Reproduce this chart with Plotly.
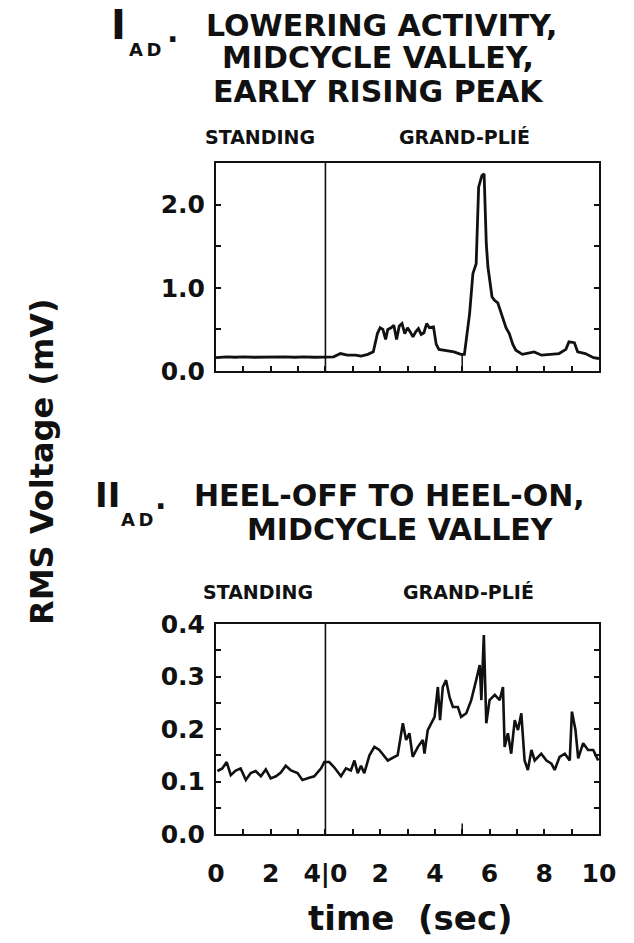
import plotly.graph_objects as go

# ---------------- data ----------------
# time axis: standing phase plotted at -4..0 (labelled 0..4), grand-plié at 0..10
top_t = [-4.0, -3.6, -3.3, -3.0, -2.6, -2.2, -1.9, -1.5, -1.1, -0.8, -0.4, 0.0,
         0.3, 0.55, 0.8, 1.1, 1.3, 1.55, 1.75, 1.9, 2.0, 2.1, 2.2, 2.28, 2.4, 2.5,
         2.6, 2.7, 2.8, 2.9, 3.0, 3.1, 3.2, 3.3, 3.4, 3.5, 3.6, 3.7, 3.8, 3.95,
         4.05, 4.15, 4.4, 4.7, 4.95, 5.08, 5.27, 5.39, 5.51, 5.6, 5.72, 5.8, 5.88,
         5.94, 6.09, 6.18, 6.3, 6.4, 6.47, 6.6, 6.72, 6.85, 6.96, 7.2, 7.5, 7.63,
         7.9, 8.2, 8.54, 8.79, 8.9, 9.1, 9.22, 9.5, 9.8, 10.0]
top_v = [0.16, 0.17, 0.165, 0.17, 0.165, 0.17, 0.165, 0.17, 0.165, 0.17, 0.165, 0.165,
         0.17, 0.21, 0.19, 0.19, 0.18, 0.20, 0.23, 0.45, 0.52, 0.50, 0.38, 0.50, 0.52, 0.55,
         0.38, 0.54, 0.57, 0.45, 0.52, 0.47, 0.41, 0.47, 0.51, 0.44, 0.46, 0.57, 0.52, 0.53,
         0.32, 0.26, 0.25, 0.23, 0.20, 0.20, 0.69, 1.17, 1.29, 2.21, 2.35, 2.37, 1.53,
         1.25, 0.89, 0.85, 0.82, 0.72, 0.65, 0.52, 0.45, 0.32, 0.25, 0.20, 0.22, 0.23,
         0.19, 0.20, 0.21, 0.26, 0.35, 0.34, 0.23, 0.21, 0.16, 0.15]

bot_t = [-3.95, -3.77, -3.61, -3.46, -3.28, -3.10, -2.91, -2.73, -2.55, -2.36, -2.18,
         -2.00, -1.81, -1.63, -1.45, -1.26, -1.02, -0.84, -0.65, -0.41, -0.16, -0.04,
         0.14, 0.32, 0.57, 0.75, 0.93, 1.06, 1.18, 1.30, 1.42, 1.61, 1.79, 1.97, 2.28,
         2.64, 2.83, 2.95, 3.07, 3.19, 3.38, 3.56, 3.62, 3.74, 3.93, 3.99, 4.11, 4.19,
         4.29, 4.41, 4.54, 4.66, 4.84, 4.96, 5.15, 5.33, 5.51, 5.64, 5.70, 5.79, 5.88,
         6.00, 6.19, 6.37, 6.49, 6.55, 6.67, 6.79, 6.92, 7.04, 7.16, 7.28, 7.40, 7.53,
         7.65, 7.89, 8.08, 8.26, 8.38, 8.56, 8.75, 8.93, 9.01, 9.14, 9.24, 9.42, 9.60,
         9.79, 9.97]
bot_v = [0.120, 0.125, 0.137, 0.112, 0.121, 0.125, 0.103, 0.116, 0.120, 0.110, 0.123,
         0.106, 0.110, 0.117, 0.130, 0.121, 0.116, 0.103, 0.106, 0.110, 0.125, 0.137,
         0.137, 0.127, 0.110, 0.125, 0.121, 0.140, 0.116, 0.130, 0.116, 0.150, 0.166,
         0.160, 0.140, 0.150, 0.211, 0.179, 0.192, 0.147, 0.166, 0.179, 0.153, 0.198,
         0.217, 0.223, 0.280, 0.217, 0.280, 0.293, 0.260, 0.242, 0.242, 0.223, 0.230,
         0.255, 0.293, 0.322, 0.255, 0.379, 0.211, 0.255, 0.265, 0.255, 0.280, 0.166,
         0.192, 0.153, 0.217, 0.198, 0.230, 0.140, 0.122, 0.160, 0.140, 0.153, 0.140,
         0.134, 0.122, 0.147, 0.153, 0.140, 0.233, 0.198, 0.144, 0.173, 0.160, 0.160,
         0.140]

x_tickvals = [-4, -3, -2, -1, 0, 1, 2, 3, 4, 5, 6, 7, 8, 9, 10]
x_ticktext = ["0", "", "2", "", "4|0", "", "2", "", "4", "", "6", "", "8", "", "10"]
top_tickvals = [0, 0.5, 1.0, 1.5, 2.0]
top_ticktext = ["0.0", "", "1.0", "", "2.0"]
bot_tickvals = [0, 0.05, 0.1, 0.15, 0.2, 0.25, 0.3, 0.35, 0.4]
bot_ticktext = ["0.0", "", "0.1", "", "0.2", "", "0.3", "", "0.4"]

phase_split = 0      # boundary standing | grand-plié
mark_t = 5           # marker at grand-plié 5 s
top_mark_v = 0.20
bot_mark_v = 0.02

W, H = 634, 943
def px(x):
    return x / W
def py(y):
    return 1 - y / H

FONT = "DejaVu Sans"
BLACK = "#111111"

fig = go.Figure()
fig.add_trace(go.Scatter(x=top_t, y=top_v, mode="lines", xaxis="x", yaxis="y",
                         line=dict(color=BLACK, width=2.8), showlegend=False))
fig.add_trace(go.Scatter(x=bot_t, y=bot_v, mode="lines", xaxis="x2", yaxis="y2",
                         line=dict(color=BLACK, width=2.6), showlegend=False))

tickfont = dict(family=FONT, size=25, color=BLACK, weight="bold")
xcommon = dict(range=[-4, 10], domain=[px(216), px(599)], showgrid=False, zeroline=False,
               showline=True, linecolor=BLACK, linewidth=2, mirror=True, automargin=False,
               ticks="inside", ticklen=5, tickwidth=1.5, tickcolor=BLACK,
               tickvals=x_tickvals, ticktext=x_ticktext, tickfont=tickfont)
ycommon = dict(showgrid=False, zeroline=False, showline=True, linecolor=BLACK,
               linewidth=2, mirror="ticks", ticks="inside", ticklen=5, tickwidth=1.5,
               tickcolor=BLACK, tickfont=tickfont, ticklabelstandoff=4, automargin=False)

fig.update_layout(
    template="none",
    width=W, height=H, margin=dict(l=0, r=0, t=0, b=0, pad=0, autoexpand=False),
    paper_bgcolor="white", plot_bgcolor="white", showlegend=False,
    xaxis=dict(**xcommon, anchor="y", showticklabels=False),
    yaxis=dict(**ycommon, range=[0, 2.5], domain=[py(371), py(163)], anchor="x",
               tickvals=top_tickvals, ticktext=top_ticktext),
    xaxis2=dict(**xcommon, anchor="y2", showticklabels=True, ticklabelstandoff=16),
    yaxis2=dict(**ycommon, range=[0, 0.4], domain=[py(834), py(624)], anchor="x2",
                tickvals=bot_tickvals, ticktext=bot_ticktext),
)

# phase divider and marker lines
for xr, yr in (("x", "y"), ("x2", "y2")):
    fig.add_shape(type="line", xref=xr, yref=yr + " domain", x0=phase_split, x1=phase_split,
                  y0=0, y1=1, line=dict(color=BLACK, width=1.6))
fig.add_shape(type="line", xref="x", yref="y", x0=mark_t, x1=mark_t, y0=0, y1=top_mark_v,
              line=dict(color=BLACK, width=1.5))
fig.add_shape(type="line", xref="x2", yref="y2", x0=mark_t, x1=mark_t, y0=0, y1=bot_mark_v,
              line=dict(color=BLACK, width=1.5))

def ann(text, x, y, size, angle=0):
    fig.add_annotation(text=text, x=px(x), y=py(y), xref="paper", yref="paper",
                       xanchor="center", yanchor="middle", showarrow=False,
                       textangle=angle,
                       font=dict(family=FONT, size=size, color=BLACK, weight="bold"))

# panel I titles
ann("I", 118, 25, 40)
ann("A\u2009D", 145, 49, 18)
ann(".", 172, 31, 30)
ann("LOWERING ACTIVITY,", 381, 25, 30)
ann("MIDCYCLE VALLEY,", 378, 58, 30)
ann("EARLY RISING PEAK", 379, 91, 30)
ann("STANDING", 260, 137, 19)
ann("GRAND-PLIÉ", 464, 137, 19)

# panel II titles
ann("II", 107, 495, 34)
ann("A\u2009D", 137, 519, 18)
ann(".", 160, 498, 30)
ann("HEEL-OFF TO HEEL-ON,", 390, 495, 30)
ann("MIDCYCLE VALLEY", 400, 529, 30)
ann("STANDING", 258, 592, 19)
ann("GRAND-PLIÉ", 469, 592, 19)

# axis titles
ann("RMS Voltage (mV)", 42, 462, 32, angle=-90)
ann("time\u00a0\u00a0(sec)", 410, 918, 34)

fig.write_html("out.html")
